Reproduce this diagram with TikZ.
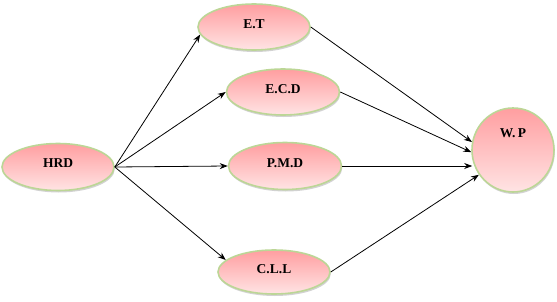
\documentclass[tikz,border=0pt]{standalone}
\usepackage{fontspec}
\setmainfont{Liberation Serif}
\usetikzlibrary{arrows.meta,shadows,shapes.geometric}
\definecolor{pinktop}{RGB}{255,158,160}
\definecolor{pinkbot}{RGB}{255,228,228}
\definecolor{greenrim}{RGB}{188,214,150}
\tikzset{
  bubble/.style={ellipse, draw=greenrim, line width=1.6pt, top color=pinktop, bottom color=pinkbot,
    inner sep=0pt, drop shadow={shadow xshift=0.8pt, shadow yshift=-2pt, fill=black!35, opacity=0.5}},
  lbl/.style={font=\bfseries\fontsize{13.5}{15}\selectfont, inner sep=0pt},
  link/.style={line width=0.8pt, -{Stealth[length=8pt,width=6pt]}}
}
\begin{document}
\begin{tikzpicture}[x=1pt,y=1pt]
\useasboundingbox (0,0) rectangle (557,301);
\node[bubble, minimum width=112pt, minimum height=47pt] (hrd) at (58,134) {};
\node[bubble, minimum width=112pt, minimum height=46pt] (et) at (254,274) {};
\node[bubble, minimum width=113pt, minimum height=46pt] (ecd) at (283,209) {};
\node[bubble, minimum width=113pt, minimum height=47pt] (pmd) at (285,135) {};
\node[bubble, minimum width=112pt, minimum height=44pt] (cll) at (274,29) {};
\node[bubble, minimum width=82pt, minimum height=84pt] (wp) at (513,151) {};
\node[lbl] (thrd) at (58,138) {HRD};
\node[lbl] (tet) at (254,277) {E.T};
\node[lbl] (tecd) at (283,212) {E.C.D};
\node[lbl] (tpmd) at (285,138) {P.M.D};
\node[lbl] (tcll) at (274,32) {C.L.L};
\node[lbl] (twp) at (513,168) {W.\,P};
\draw[link] (hrd.east) -- (et.188);
\draw[link] (hrd.east) -- (ecd.west);
\draw[link] (hrd.east) -- (pmd.west);
\draw[link] (hrd.east) -- (cll.166);
\draw[link] (et.east) -- (wp.169);
\draw[link] (ecd.east) -- (wp.183);
\draw[link] (pmd.east) -- ([xshift=1pt]pmd.east -| wp.west);
\draw[link] (cll.east) -- (wp.216);
\end{tikzpicture}
\end{document}
